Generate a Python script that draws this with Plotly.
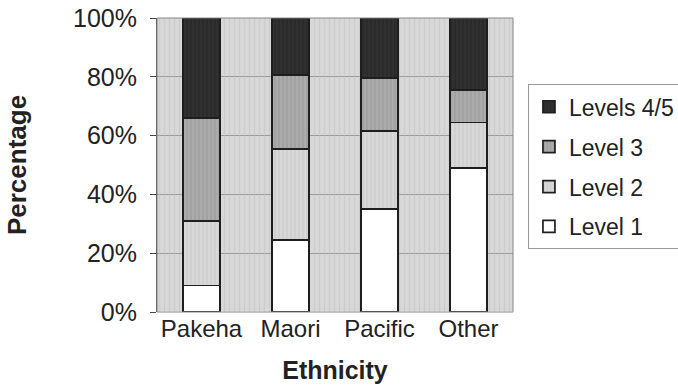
import plotly.graph_objects as go

# Share of students at each achievement level, by ethnicity (percent)
ethnicities = ["Pakeha", "Maori", "Pacific", "Other"]
level_1 = [9, 24.5, 35, 49]
level_2 = [22, 31, 26.5, 15.5]
level_3 = [35, 25, 18, 11]
levels_4_5 = [34, 19.5, 20.5, 24.5]

# name, values, fill, pattern shape, stripe colour, legend position
series = [
    ("Level 1", level_1, "#ffffff", "", "#ffffff", 4),
    ("Level 2", level_2, "#d8d8d8", "|", "#bcbcbc", 3),
    ("Level 3", level_3, "#ababab", "|", "#8a8a8a", 2),
    ("Levels 4/5", levels_4_5, "#303030", "|", "#1c1c1c", 1),
]

fig = go.Figure()

# Striped plot-area backdrop, on a hidden numeric axis underneath the bars
fig.add_trace(go.Bar(
    x=[0.5], y=[100], width=1, xaxis="x", yaxis="y",
    showlegend=False, hoverinfo="skip",
    marker=dict(
        color="rgba(0,0,0,0)", line=dict(width=0),
        pattern=dict(shape="|", fgcolor="#c2c2c2", bgcolor="rgba(0,0,0,0)",
                     size=5, solidity=0.25),
    ),
))

for name, vals, bg, shape, fg, rank in series:
    fig.add_trace(go.Bar(
        x=ethnicities, y=vals, name=name, width=0.41,
        xaxis="x2", yaxis="y",
        legendgroup=name, legendrank=rank,
        marker=dict(
            color=bg,
            line=dict(color="#1e1e1e", width=1.7),
            pattern=dict(shape=shape, fgcolor=fg, bgcolor=bg, size=4, solidity=0.3),
        ),
    ))

font = "Liberation Sans, Arial, sans-serif"
fig.update_layout(
    barmode="stack",
    width=678, height=387,
    margin=dict(l=157, r=165, t=18, b=75, autoexpand=False),
    paper_bgcolor="white",
    plot_bgcolor="#d8d8d8",
    font=dict(family=font, size=24, color="#222222"),
    showlegend=True,
    legend=dict(
        x=1.042, y=0.7745, xanchor="left", yanchor="top",
        traceorder="grouped",
        bordercolor="#999999", borderwidth=1,
        font=dict(size=23, color="#222222"),
        itemwidth=30, tracegroupgap=7,
    ),
    xaxis=dict(
        range=[0, 1], visible=False, showgrid=False, fixedrange=True,
        automargin=False,
    ),
    xaxis2=dict(
        overlaying="x", side="bottom", automargin=False,
        title=dict(text="<b>Ethnicity</b>", font=dict(size=25), standoff=20),
        tickfont=dict(size=24),
        showline=False, ticks="", showgrid=False,
    ),
    yaxis=dict(
        automargin=False,
        title=dict(text="<b>Percentage</b>", font=dict(size=26), standoff=38),
        range=[0, 100], tickvals=[0, 20, 40, 60, 80, 100],
        ticktext=["0%", "20%", "40%", "60%", "80%", "100%"],
        tickfont=dict(size=25),
        ticklabelstandoff=8,
        showline=True, linecolor="#444444", mirror=False,
        ticks="outside", ticklen=6, tickcolor="#444444",
        showgrid=True, gridcolor="#9a9a9a", gridwidth=1,
    ),
)
fig.add_shape(type="rect", xref="paper", yref="paper", x0=0, x1=1, y0=0, y1=1,
              line=dict(color="#888888", width=1), layer="above")

fig.write_html("out.html")
